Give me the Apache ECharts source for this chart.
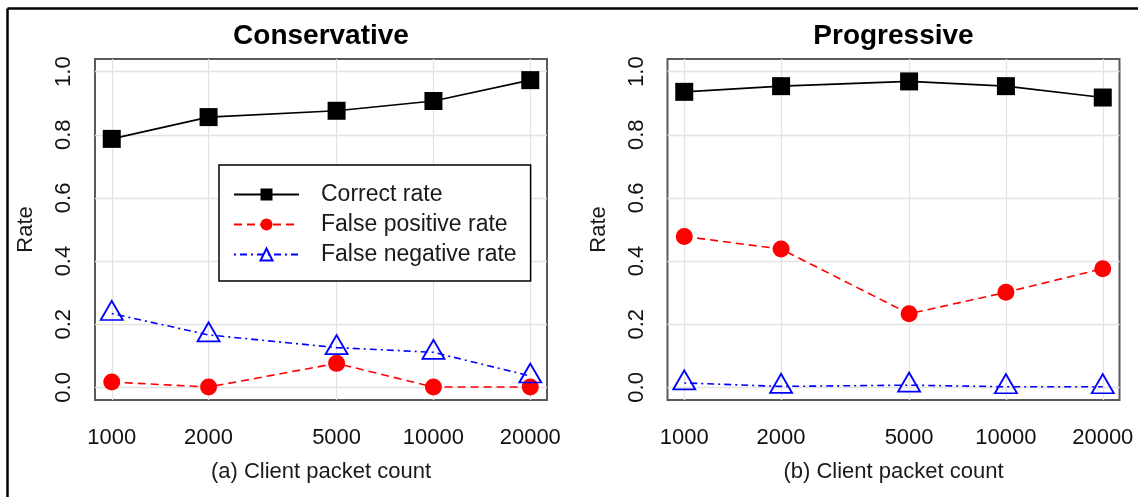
<!DOCTYPE html>
<html>
<head>
<meta charset="utf-8">
<script src="https://cdn.jsdelivr.net/npm/echarts@6/dist/echarts.min.js"></script>
<style>
  html, body { margin: 0; padding: 0; background: #fff; }
  #chart { width: 1138px; height: 497px; }
</style>
</head>
<body>
<div id="chart"></div>
<script>
// ---- data ----
const packetCounts = [1000, 2000, 5000, 10000, 20000];
const yTicks = [0, 0.2, 0.4, 0.6, 0.8, 1.0];
const panelTitles = ['Conservative', 'Progressive'];
const xAxisNames = ['(a) Client packet count', '(b) Client packet count'];
const seriesNames = ['Correct rate', 'False positive rate', 'False negative rate'];

const consCorrect = [0.787, 0.856, 0.876, 0.907, 0.973];
const consFalsePos = [0.017, 0.001, 0.076, 0.001, 0.001];
const consFalseNeg = [0.234, 0.166, 0.126, 0.111, 0.036];

const progCorrect = [0.936, 0.954, 0.969, 0.954, 0.918];
const progFalsePos = [0.478, 0.438, 0.233, 0.301, 0.376];
const progFalseNeg = [0.014, 0.003, 0.007, 0.002, 0.002];

// ---- chart ----
const FONT = '"Liberation Sans", Arial, Helvetica, sans-serif';
const chart = echarts.init(document.getElementById('chart'), null, { renderer: 'canvas' });

const grids = [
  { left: 95, top: 59, width: 452, height: 341 },
  { left: 667.5, top: 59, width: 452, height: 341 }
];

function pairs(vals) { return packetCounts.map((c, i) => [c, vals[i]]); }

function makeXAxis(idx) {
  return {
    type: 'log', logBase: 10, gridIndex: idx,
    min: 887, max: 22545,
    name: xAxisNames[idx], nameLocation: 'middle', nameGap: 61,
    nameTextStyle: { fontFamily: FONT, fontSize: 22, color: '#1a1a1a' },
    axisLine: { show: false },
    axisTick: { show: false, customValues: packetCounts },
    axisLabel: { customValues: packetCounts, margin: 27, fontFamily: FONT, fontSize: 22, color: '#111',
      formatter: v => String(Math.round(v)) },
    splitLine: { show: true, lineStyle: { color: '#e3e3e3', width: 1.3 } }
  };
}
function makeYAxis(idx) {
  return {
    type: 'value', gridIndex: idx, min: -0.04, max: 1.04,
    name: 'Rate', nameLocation: 'middle', nameGap: 58, nameRotate: 90,
    nameTextStyle: { fontFamily: FONT, fontSize: 22, color: '#1a1a1a' },
    axisLine: { show: false },
    axisTick: { show: false, customValues: yTicks },
    axisLabel: { customValues: yTicks, rotate: 90, margin: 20, fontFamily: FONT, fontSize: 22, color: '#111',
      formatter: v => v.toFixed(1) },
    splitLine: { show: true, lineStyle: { color: '#e3e3e3', width: 1.3 } }
  };
}

function makeSeries(idx, correct, fp, fn) {
  return [
    {
      name: seriesNames[0], type: 'line', xAxisIndex: idx, yAxisIndex: idx,
      data: pairs(correct), symbol: 'rect', symbolSize: 18,
      itemStyle: { color: '#000' }, lineStyle: { color: '#000', width: 1.6, type: 'solid' },
      z: 3, animation: false
    },
    {
      name: seriesNames[2], type: 'line', xAxisIndex: idx, yAxisIndex: idx,
      data: pairs(fn), symbol: 'triangle', symbolSize: [22, 19], symbolOffset: [0, -3],
      itemStyle: { color: 'rgba(0,0,0,0)', borderColor: '#0000ff', borderWidth: 1.8 },
      lineStyle: { color: '#0000ff', width: 1.6, type: [2, 4, 7, 4] },
      z: 4, animation: false
    },
    {
      name: seriesNames[1], type: 'line', xAxisIndex: idx, yAxisIndex: idx,
      data: pairs(fp), symbol: 'circle', symbolSize: 17,
      itemStyle: { color: '#ff0000' }, lineStyle: { color: '#ff0000', width: 1.6, type: [8, 5] },
      z: 3, animation: false
    }
  ];
}

const option = {
  backgroundColor: '#ffffff',
  animation: false,
  title: panelTitles.map((t, i) => ({
    text: t,
    left: grids[i].left + grids[i].width / 2, top: 22, textAlign: 'center', padding: 0,
    textStyle: { fontFamily: FONT, fontSize: 28, fontWeight: 'bold', color: '#000' }
  })),
  legend: {
    data: seriesNames,
    orient: 'vertical', left: 219, top: 165,
    padding: [18, 14, 15, 14],
    borderColor: '#000', borderWidth: 1.5, backgroundColor: '#fff',
    itemWidth: 65, itemHeight: 15, itemGap: 7,
    textStyle: { fontFamily: FONT, fontSize: 23, color: '#1a1a1a', lineHeight: 16, padding: [0, 0, 0, 17] },
    selectedMode: false
  },
  grid: grids.map(g => Object.assign({ show: true, borderColor: '#5a5a5a', borderWidth: 2, backgroundColor: 'transparent' }, g)),
  xAxis: [makeXAxis(0), makeXAxis(1)],
  yAxis: [makeYAxis(0), makeYAxis(1)],
  series: [].concat(
    makeSeries(0, consCorrect, consFalsePos, consFalseNeg),
    makeSeries(1, progCorrect, progFalsePos, progFalseNeg)
  ),
  graphic: [
    { type: 'line', shape: { x1: 7.5, y1: 8.5, x2: 1138, y2: 8.5 }, style: { stroke: '#000', lineWidth: 2.5 }, z: 100 },
    { type: 'line', shape: { x1: 7.5, y1: 8.5, x2: 7.5, y2: 497 }, style: { stroke: '#000', lineWidth: 2.5 }, z: 100 }
  ]
};
chart.setOption(option);
</script>
</body>
</html>
